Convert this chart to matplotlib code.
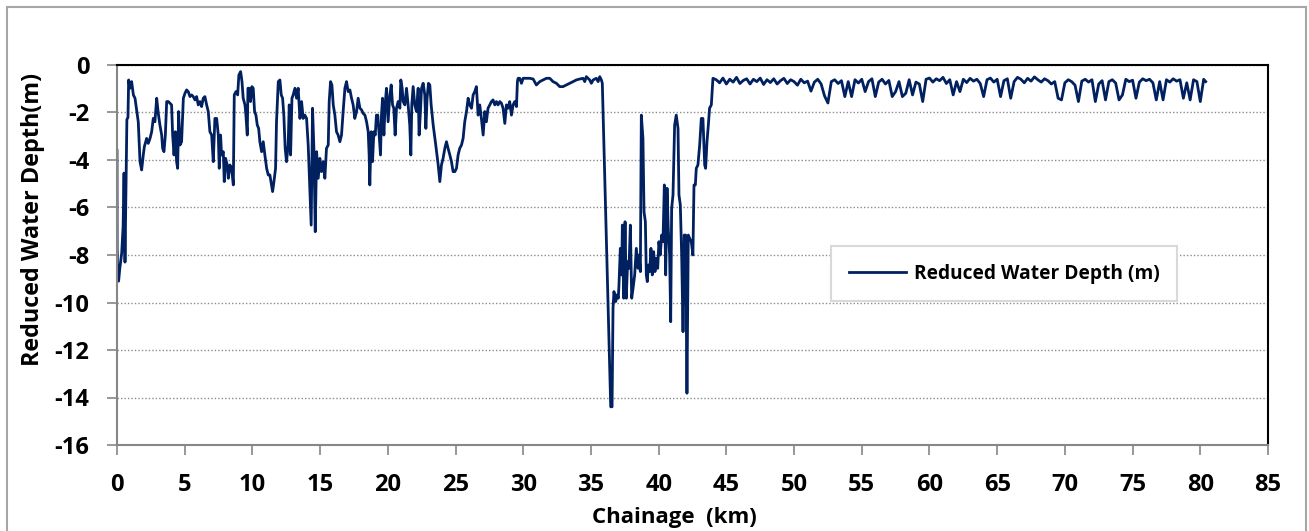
import numpy as np
import matplotlib.pyplot as plt
from matplotlib.patches import Rectangle

plt.rcParams['font.family'] = ['Open Sans', 'DejaVu Sans']
plt.rcParams['font.weight'] = 'bold'
plt.rcParams['axes.unicode_minus'] = False

# surveyed section 0 - 44 km (irregular spacing)
chainage_a = [
    0.0, 0.01, 0.05, 0.12, 0.2, 0.35, 0.45, 0.52, 0.59, 0.66, 0.73, 0.81, 0.86,
    0.96, 1.08, 1.21, 1.33, 1.45, 1.57, 1.70, 1.82, 1.94, 2.02, 2.19, 2.31, 2.44,
    2.56, 2.68, 2.80, 2.93, 3.05, 3.17, 3.30, 3.37, 3.47, 3.57, 3.67, 3.79, 3.91,
    4.03, 4.11, 4.21, 4.31, 4.40, 4.48, 4.55, 4.65, 4.77, 4.90, 5.02, 5.14, 5.26,
    5.39, 5.51, 5.63, 5.76, 5.88, 6.00, 6.13, 6.25, 6.37, 6.49, 6.62, 6.74, 6.86,
    6.99, 7.11, 7.23, 7.36, 7.48, 7.55, 7.65, 7.72, 7.85, 7.92, 8.02, 8.14, 8.22,
    8.34, 8.46, 8.59, 8.66, 8.78, 8.91, 9.00, 9.13, 9.23, 9.32, 9.45, 9.52, 9.62,
    9.67, 9.77, 9.86, 9.96, 10.06, 10.16, 10.26, 10.36, 10.46, 10.55, 10.68, 10.80,
    10.92, 11.05, 11.17, 11.29, 11.41, 11.49, 11.59, 11.71, 11.78, 11.91, 12.03,
    12.13, 12.23, 12.32, 12.42, 12.52, 12.64, 12.72, 12.82, 12.92, 13.01, 13.14,
    13.26, 13.38, 13.51, 13.63, 13.75, 13.87, 14.00, 14.12, 14.24, 14.34, 14.44,
    14.54, 14.64, 14.74, 14.86, 14.98, 15.10, 15.23, 15.35, 15.47, 15.60, 15.67,
    15.77, 15.87, 15.97, 16.09, 16.21, 16.33, 16.46, 16.58, 16.70, 16.83, 16.95,
    17.07, 17.20, 17.32, 17.44, 17.56, 17.69, 17.81, 17.94, 18.06, 18.18, 18.31,
    18.43, 18.55, 18.62, 18.67, 18.77, 18.87, 18.97, 19.07, 19.16, 19.26, 19.36,
    19.46, 19.53, 19.61, 19.71, 19.80, 19.90, 20.02, 20.15, 20.25, 20.35, 20.44,
    20.54, 20.64, 20.76, 20.89, 20.96, 21.06, 21.13, 21.26, 21.38, 21.50, 21.62,
    21.70, 21.77, 21.87, 21.99, 22.12, 22.24, 22.31, 22.41, 22.49, 22.61, 22.73,
    22.81, 22.90, 23.00, 23.10, 23.20, 23.35, 23.54, 23.72, 23.84, 23.96, 24.08,
    24.21, 24.33, 24.45, 24.58, 24.70, 24.82, 24.95, 25.07, 25.19, 25.31, 25.44,
    25.56, 25.68, 25.81, 25.93, 26.05, 26.18, 26.30, 26.42, 26.54, 26.67, 26.79,
    26.91, 27.04, 27.16, 27.28, 27.40, 27.53, 27.65, 27.77, 27.90, 28.02, 28.14,
    28.27, 28.39, 28.51, 28.64, 28.76, 28.88, 29.00, 29.13, 29.25, 29.37, 29.50,
    29.57, 29.62, 29.74, 29.87, 29.99, 30.23, 30.48, 30.73, 30.97, 31.22, 31.46,
    31.71, 31.96, 32.20, 32.45, 32.69, 32.94, 33.19, 33.43, 33.68, 33.92, 34.17,
    34.42, 34.54, 34.66, 34.79, 34.91, 35.03, 35.16, 35.40, 35.53, 35.65, 35.77,
    35.84, 36.46, 36.56, 36.63, 36.70, 36.83, 36.93, 37.02, 37.07, 37.17, 37.27,
    37.32, 37.42, 37.52, 37.61, 37.71, 37.81, 37.91, 38.01, 38.11, 38.23, 38.35,
    38.48, 38.55, 38.65, 38.72, 38.84, 38.92, 39.02, 39.09, 39.16, 39.24, 39.34,
    39.43, 39.53, 39.63, 39.73, 39.83, 39.93, 40.02, 40.12, 40.22, 40.32, 40.42,
    40.52, 40.62, 40.71, 40.81, 40.89, 40.96, 41.06, 41.18, 41.30, 41.43, 41.50,
    41.60, 41.70, 41.80, 41.89, 41.99, 42.09, 42.19, 42.29, 42.41, 42.53, 42.61,
    42.71, 42.78, 42.90, 43.03, 43.15, 43.27, 43.40, 43.47, 43.57, 43.67, 43.76,
    43.89, 43.96, 44.01,
]
depth_a = [
    -3.6, -7.7, -8.8, -9.1, -8.6, -7.9, -6.8, -4.55, -8.3, -5.4, -2.3, -2.2, -0.63,
    -0.98, -0.70, -1.26, -1.40, -1.89, -2.39, -4.07, -4.42, -3.79, -3.44, -3.09, -3.30, -3.09,
    -2.81, -2.25, -2.39, -1.40, -2.04, -2.53, -2.95, -3.51, -3.65, -2.95, -1.54, -1.54, -1.61,
    -1.68, -2.95, -3.79, -2.81, -4.07, -4.35, -1.96, -3.37, -3.23, -1.40, -1.19, -1.05, -1.12,
    -1.33, -1.26, -1.33, -1.47, -1.33, -1.68, -1.54, -1.75, -1.40, -1.33, -1.68, -1.96, -2.81,
    -2.95, -4.07, -2.25, -2.25, -2.95, -4.35, -2.95, -3.79, -3.65, -4.91, -3.93, -4.21, -4.77,
    -4.21, -4.35, -5.05, -1.26, -1.12, -1.26, -0.42, -0.28, -0.70, -1.40, -1.68, -2.11, -2.95,
    -0.98, -0.98, -1.54, -0.91, -0.98, -1.96, -2.11, -2.53, -2.67, -3.23, -3.65, -3.23,
    -3.79, -4.35, -4.63, -4.63, -5.05, -5.33, -4.91, -4.35, -2.39, -0.70, -0.63,
    -1.26, -1.40, -2.11, -3.51, -4.07, -3.37, -1.68, -3.79, -1.40, -1.26, -0.98,
    -1.40, -0.98, -2.25, -1.54, -2.25, -2.11, -2.25, -3.37, -5.19, -6.74, -1.82,
    -3.51, -7.02, -3.65, -4.77, -3.93, -4.49, -4.07, -4.77, -3.51, -3.37, -1.54,
    -0.70, -0.84, -1.68, -2.11, -2.81, -2.95, -3.23, -2.95, -1.96, -0.98, -0.70,
    -1.12, -1.05, -1.40, -1.68, -2.25, -1.96, -1.40, -1.82, -1.89, -2.04, -2.11,
    -2.39, -2.81, -3.79, -5.05, -2.81, -4.07, -2.81, -2.95, -2.11, -2.11, -2.95,
    -3.79, -2.11, -1.40, -2.95, -1.68, -0.98, -2.39, -1.26, -0.84, -1.68, -1.82,
    -2.95, -1.82, -1.54, -1.82, -0.63, -0.98, -1.54, -1.68, -0.98, -1.68, -2.53,
    -3.79, -1.68, -0.91, -1.68, -1.96, -0.98, -2.95, -1.96, -0.98, -0.77, -1.26,
    -2.67, -1.40, -0.77, -0.84, -1.68, -2.53, -3.37, -4.21, -4.91, -4.21, -3.93,
    -3.51, -3.23, -3.51, -3.79, -4.07, -4.49, -4.49, -4.35, -3.79, -3.51, -3.37,
    -3.09, -2.39, -1.96, -1.40, -1.68, -1.82, -1.26, -1.12, -0.91, -2.11, -1.68,
    -2.25, -2.95, -1.96, -2.39, -1.82, -1.68, -1.54, -1.47, -1.68, -1.54, -1.68,
    -1.54, -1.61, -1.82, -2.46, -1.68, -1.82, -1.54, -2.11, -1.68, -1.54, -1.75,
    -0.70, -0.56, -0.56, -0.77, -0.56, -0.56, -0.56, -0.59, -0.84, -0.70, -0.63,
    -0.56, -0.56, -0.70, -0.77, -0.91, -0.91, -0.84, -0.77, -0.70, -0.63, -0.59,
    -0.56, -0.70, -0.49, -0.56, -0.63, -0.77, -0.63, -0.56, -0.70, -0.49, -0.63,
    -0.77, -14.39, -14.39, -10.25, -9.54, -9.96, -9.68, -9.82, -9.26, -7.72, -8.84,
    -6.74, -9.82, -6.60, -9.82, -8.28, -8.56, -6.74, -9.82, -9.40, -8.84, -7.72,
    -8.56, -8.00, -8.70, -2.11, -3.09, -6.18, -6.60, -8.84, -9.12, -8.42, -8.70,
    -7.72, -8.84, -7.86, -8.70, -8.14, -8.56, -7.44, -8.00, -7.16, -7.44, -5.05,
    -8.84, -5.19, -6.88, -8.00, -10.81, -6.04, -5.47, -2.53, -2.11, -2.67, -5.47,
    -5.89, -8.00, -11.23, -7.16, -7.16, -13.82, -7.16, -7.30, -7.44, -8.00, -5.05,
    -5.05, -4.35, -4.21, -3.37, -2.25, -2.25, -4.21, -4.35, -3.23, -2.53, -1.82,
    -1.68, -0.98, -0.56,
]

# regular 250 m spacing 44.25 - 80.25 km
chainage_b = np.arange(44.25, 80.26, 0.25)
depth_b = [
    -0.62, -0.75, -0.55, -0.80, -0.60, -0.72, -0.52, -0.78, -0.65, -0.58,
    -0.80, -0.60, -0.70, -0.55, -0.82, -0.62, -0.74, -0.58, -0.80, -0.66,
    -0.56, -0.78, -0.62, -0.70, -0.85, -0.60, -0.75, -0.68, -1.10, -0.72,
    -0.60, -0.80, -1.30, -1.60, -0.70, -0.62, -0.78, -0.66, -1.33, -0.70,
    -1.33, -0.62, -0.76, -0.60, -1.12, -0.70, -0.58, -1.33, -0.72, -0.60,
    -0.80, -0.65, -1.33, -1.12, -0.70, -1.33, -1.19, -0.62, -1.26, -0.72,
    -0.80, -1.54, -0.60, -0.55, -0.72, -0.58, -0.66, -0.52, -0.78, -0.62,
    -1.26, -0.70, -1.12, -0.60, -0.74, -0.56, -0.68, -0.60, -0.78, -1.33,
    -0.62, -0.55, -0.72, -0.60, -1.33, -0.66, -0.58, -1.40, -0.70, -0.52,
    -0.60, -0.75, -0.56, -0.68, -0.50, -0.62, -0.72, -0.58, -0.66, -0.80,
    -0.70, -1.40, -1.47, -0.75, -0.62, -0.70, -0.85, -1.54, -0.68, -0.60,
    -0.72, -0.62, -1.54, -0.80, -0.66, -1.47, -0.70, -0.62, -0.76, -1.47,
    -1.26, -0.60, -0.70, -0.64, -1.40, -0.72, -0.58, -0.66, -0.60, -0.75,
    -1.47, -0.70, -1.47, -0.62, -0.72, -0.58, -0.68, -0.62, -1.40, -0.75,
    -1.47, -0.62, -0.70, -1.54, -0.60,
]
chainage_end = [80.4]
depth_end = [-0.70]

chainage = np.concatenate([chainage_a, chainage_b, chainage_end])
depth = np.concatenate([depth_a, depth_b, depth_end])

W, H = 1309, 531
fig = plt.figure(figsize=(W / 100, H / 100), dpi=100)
ax = fig.add_axes([117 / W, 1 - 445 / H, (1268 - 117) / W, (445 - 65) / H])

ax.plot(chainage, depth, color="#002060", lw=2.0, label="Reduced Water Depth (m)")

ax.set_xlim(0, 85)
ax.set_ylim(-16, 0)
ax.set_xticks(range(0, 86, 5))
ax.set_yticks(range(-16, 1, 2))
ax.yaxis.grid(True, linestyle=(0, (1, 1.5)), color="#8c8c8c", lw=1)
ax.set_axisbelow(True)

for s in ["top", "right"]:
    ax.spines[s].set_color("black")
    ax.spines[s].set_linewidth(1.5)
for s in ["left", "bottom"]:
    ax.spines[s].set_color("#868686")
    ax.spines[s].set_linewidth(1.5)

ax.tick_params(axis="both", direction="out", length=7, width=1.2,
               color="#868686", labelsize=17)
ax.tick_params(axis="x", pad=13)
ax.tick_params(axis="y", pad=13)
for lbl in ax.get_xticklabels() + ax.get_yticklabels():
    lbl.set_fontweight("bold")

fig.text(674 / W, 1 - 517 / H, "Chainage  (km)", ha="center", va="center",
         fontsize=16, fontweight="bold")
fig.text(33 / W, 1 - 219 / H, "Reduced Water Depth(m)", ha="center", va="center",
         rotation=90, fontsize=16.8, fontweight="bold")

leg = ax.legend(loc="center", bbox_to_anchor=(1004 / W, 1 - 273.5 / H),
                bbox_transform=fig.transFigure, fancybox=False,
                edgecolor="#d9d9d9", framealpha=1,
                handlelength=3.0, handletextpad=0.4, borderpad=0.9,
                prop={"weight": "bold", "size": 13.8})
leg.get_frame().set_linewidth(1.5)

# outer chart-area border
fig.patches.append(Rectangle((7 / W, -0.05), (1306 - 7) / W, 1 - 7 / H + 0.05,
                             transform=fig.transFigure, fill=False,
                             edgecolor="#a6a6a6", lw=1.5))

fig.savefig("out.png", dpi=100)
